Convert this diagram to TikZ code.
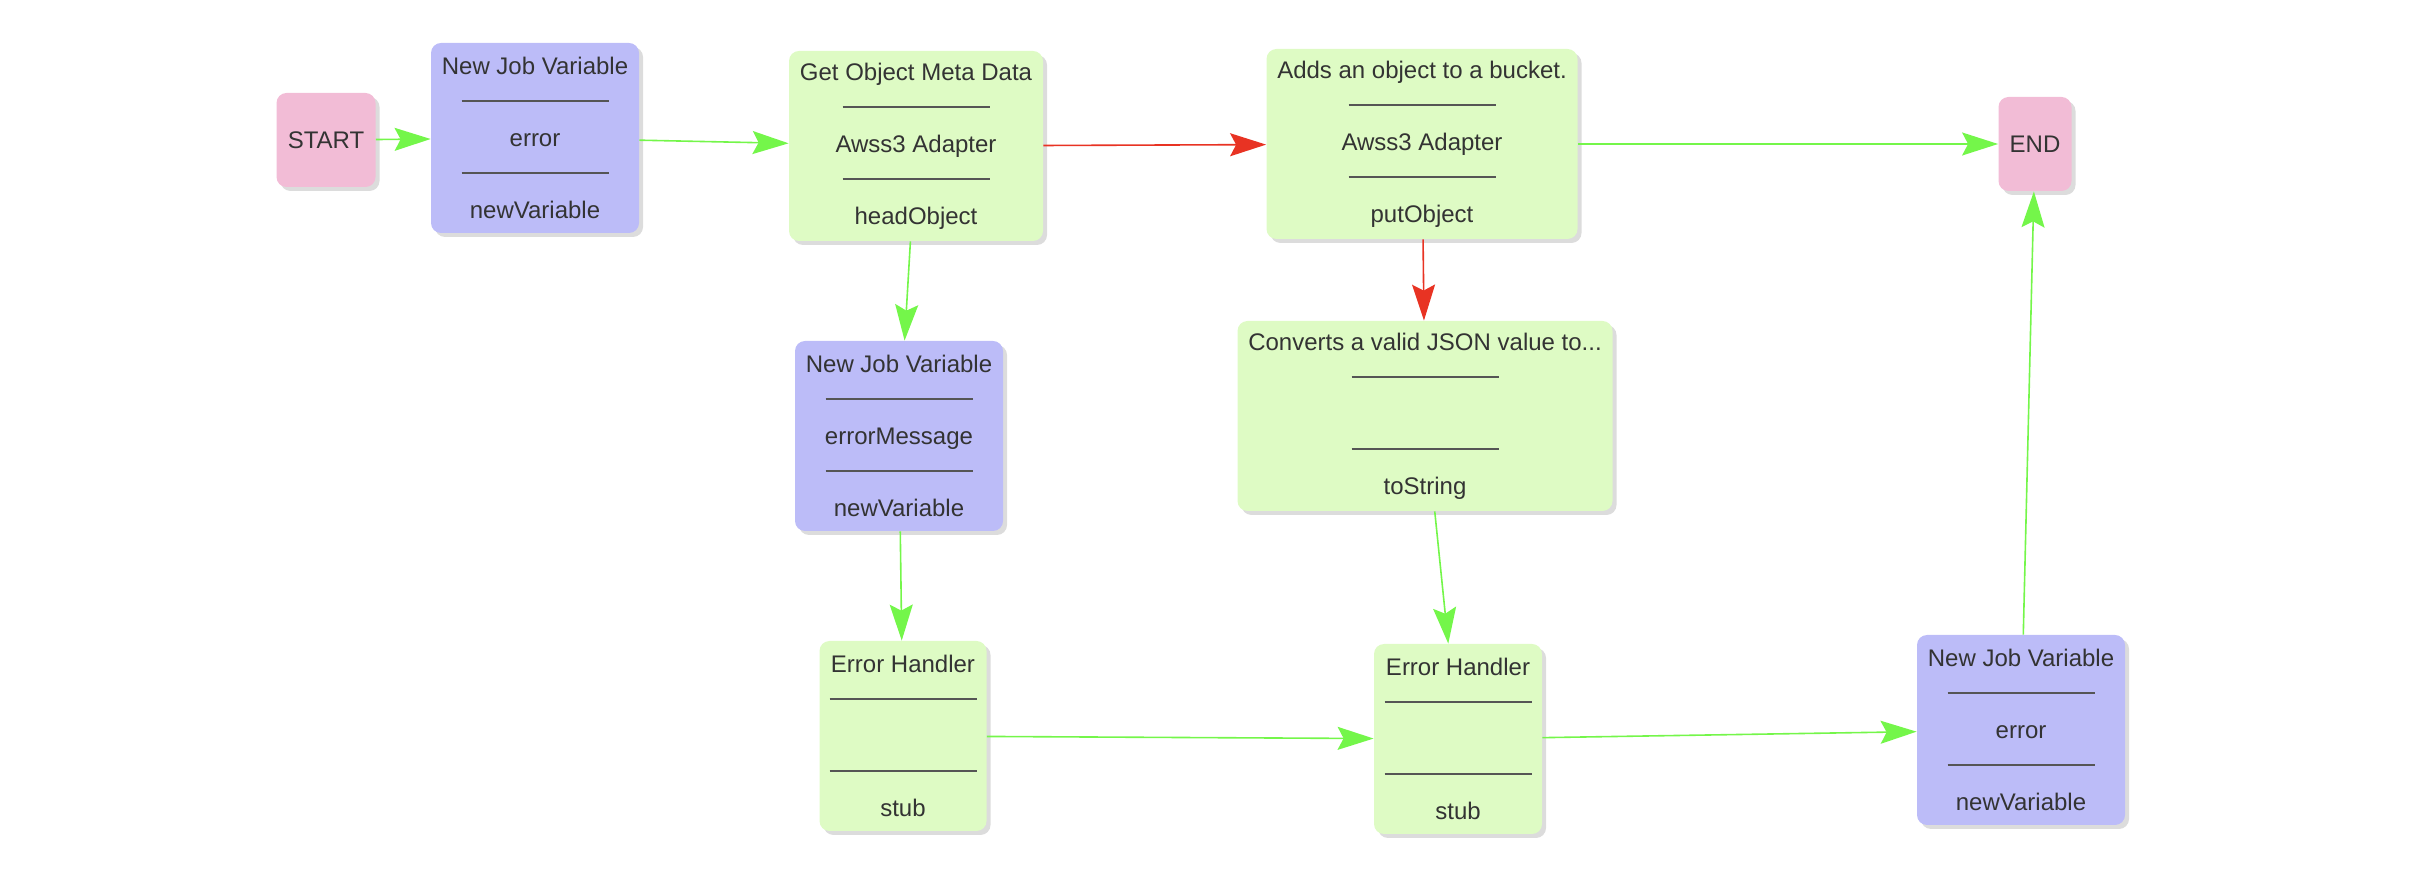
\documentclass[tikz,border=0pt]{standalone}
\usepackage{fontspec}
\setmainfont{Liberation Sans}
\usetikzlibrary{arrows.meta,shadows}
\definecolor{pur}{RGB}{188,188,248}
\definecolor{grn}{RGB}{222,251,196}
\definecolor{pnk}{RGB}{242,188,214}
\definecolor{txt}{RGB}{51,51,51}
\definecolor{rulec}{RGB}{85,85,85}
\definecolor{garrow}{RGB}{116,246,74}
\definecolor{rarrow}{RGB}{232,51,35}
\newcommand{\hrl}{{\color{rulec}\rule[4.2pt]{73.5pt}{0.9pt}}}
\tikzset{
  base/.style={rounded corners=5pt, drop shadow={shadow xshift=2pt, shadow yshift=-2pt, opacity=0.28},
    text=txt, font=\fontsize{12}{18}\selectfont, align=center, inner sep=0pt, minimum height=95pt},
  jobvar/.style={base, fill=pur, minimum width=104pt},
  act/.style={base, fill=grn},
  term/.style={base, fill=pnk, minimum height=47pt},
  flow/.style={draw=garrow, line width=0.8pt, -{Stealth[length=18pt,width=11.5pt,inset=3pt]}},
  fail/.style={flow, draw=rarrow},
}
\begin{document}
\begin{tikzpicture}[x=0.5pt,y=-0.5pt]
\useasboundingbox (0,0) rectangle (2426,886);
\node[term, minimum width=49.5pt] (start) at (326,140) {START};
\node[jobvar] (nj1) at (535,138) {New Job Variable\\\hrl\\error\\\hrl\\newVariable};
\node[act, minimum width=127pt] (gomd) at (916,146) {Get Object Meta Data\\\hrl\\Awss3 Adapter\\\hrl\\headObject};
\node[act, minimum width=155.5pt] (add) at (1422,144) {Adds an object to a bucket.\\\hrl\\Awss3 Adapter\\\hrl\\putObject};
\node[term, minimum width=36.5pt] (end) at (2035,144) {END};
\node[jobvar] (nj2) at (899,436) {New Job Variable\\\hrl\\errorMessage\\\hrl\\newVariable};
\node[act, minimum width=187.5pt] (conv) at (1425,416) {Converts a valid JSON value to...\\\hrl\\\mbox{}\\\hrl\\toString};
\node[act, minimum width=83.5pt] (eh1) at (903,736) {Error Handler\\\hrl\\\mbox{}\\\hrl\\stub};
\node[act, minimum width=84pt] (eh2) at (1458,739) {Error Handler\\\hrl\\\mbox{}\\\hrl\\stub};
\node[jobvar] (nj3) at (2021,730) {New Job Variable\\\hrl\\error\\\hrl\\newVariable};

\draw[flow] (start) -- (nj1);
\draw[flow] (nj1) -- (gomd);
\draw[fail] (gomd) -- (add);
\draw[flow] (add) -- (end);
\draw[flow] (gomd) -- (nj2);
\draw[fail] (add) -- (conv);
\draw[flow] (nj2) -- (eh1);
\draw[flow] (conv) -- (eh2);
\draw[flow] (eh1) -- (eh2);
\draw[flow] (eh2) -- (nj3);
\draw[flow] (nj3) -- (end);
\end{tikzpicture}
\end{document}
